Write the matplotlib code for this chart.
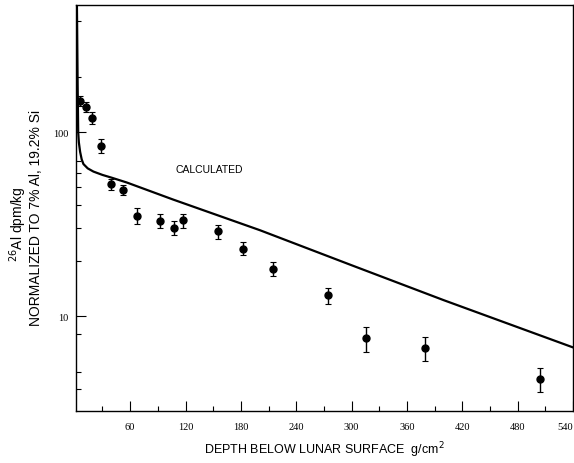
import numpy as np
import matplotlib.pyplot as plt
from matplotlib.ticker import FixedLocator, NullFormatter

# measured 26Al activity vs depth
depth = [5.8, 12.0, 18.8, 28.2, 39.4, 52.4, 67.9, 92.1, 107.3, 117.3, 155.5, 182.3,
         214.4, 273.9, 315.4, 380.0, 504.0]
al26 = [148, 137, 119, 84.3, 52, 48.4, 35.1, 33.0, 30.2, 33.1, 28.9, 23.3,
        18.1, 12.95, 7.57, 6.68, 4.55]
al26_err = [10, 9, 9, 7, 3.6, 3.0, 3.5, 2.9, 2.7, 2.9, 2.5, 1.9,
            1.6, 1.3, 1.2, 1.0, 0.7]

# calculated profile
calc_depth = [2.0, 2.6, 3.1, 3.7, 4.4, 5.8, 7.5, 9.4, 14, 20.2, 30, 40, 56.4, 106.5,
              200.6, 300, 400, 540]
calc_al26 = [700, 350, 180, 100, 88, 78, 71, 67, 63.5, 61, 58.5, 56.5, 53.2, 43.0,
             29.3, 18.9, 12.2, 6.76]

xticks = [60, 120, 180, 240, 300, 360, 420, 480, 540]
xminor = [30, 90, 150, 210, 270, 330, 390, 450, 510]
yticks = [10, 100]
yminor = [4, 5, 8, 20, 30, 40, 50, 60, 70, 200, 400]

fig = plt.figure(figsize=(5.74, 4.64), dpi=100)
ax = fig.add_axes([0.1319, 0.112, 0.8664, 0.875])

ax.plot(calc_depth, calc_al26, color="black", lw=1.6)
ax.errorbar(depth, al26, yerr=al26_err, fmt="o", color="black", ms=5,
            elinewidth=1.0, capsize=2.2, capthick=0.8)

ax.set_yscale("log")
ax.set_xlim(1, 540)
ax.set_ylim(3.05, 490)

ax.xaxis.set_major_locator(FixedLocator(xticks))
ax.xaxis.set_minor_locator(FixedLocator(xminor))
ax.yaxis.set_major_locator(FixedLocator(yticks))
ax.yaxis.set_minor_locator(FixedLocator(yminor))
ax.yaxis.set_minor_formatter(NullFormatter())
ax.set_xticklabels([str(t) for t in xticks], family="Liberation Serif", fontsize=7.5)
ax.set_yticklabels([str(t) for t in yticks], family="Liberation Serif", fontsize=7.5)
ax.get_xticklabels()[-1].set_horizontalalignment("right")
ax.tick_params(which="major", direction="in", length=7, width=0.8, top=False, right=False)
ax.tick_params(axis="x", which="major", pad=8)
ax.tick_params(axis="y", which="major", pad=5)
ax.tick_params(which="minor", direction="in", length=3.5, width=0.8, top=False, right=False)
for s in ax.spines.values():
    s.set_linewidth(1.0)

ax.text(146, 63, "CALCULATED", fontsize=7.5, ha="center", va="center", family="Liberation Sans")

ax.set_xlabel("DEPTH BELOW LUNAR SURFACE  g/cm$^2$", fontsize=9, family="Liberation Sans", labelpad=6)
fig.text(0.031, 0.517, "$^{26}$Al dpm/kg", rotation=90, ha="center", va="center",
         fontsize=10, family="Liberation Sans")
fig.text(0.063, 0.53, "NORMALIZED TO 7% Al, 19.2% Si", rotation=90, ha="center", va="center",
         fontsize=10, family="Liberation Sans")

fig.savefig("out.png", dpi=100)
